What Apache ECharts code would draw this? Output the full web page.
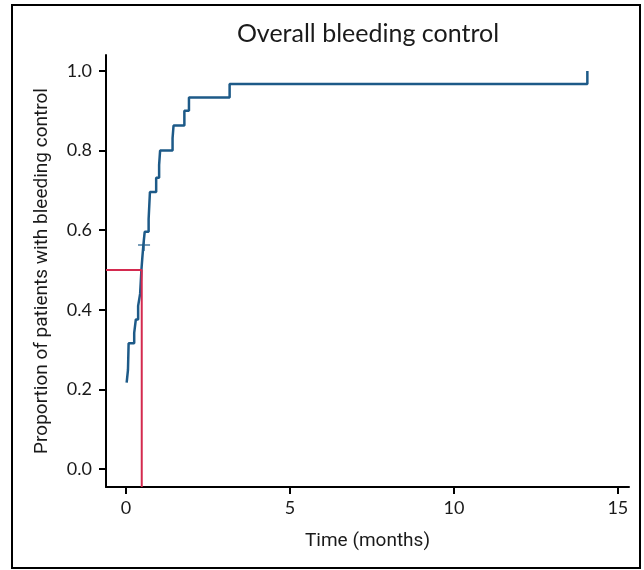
<!DOCTYPE html>
<html>
<head>
<meta charset="utf-8">
<title>Overall bleeding control</title>
<script src="https://cdn.jsdelivr.net/npm/echarts@6/dist/echarts.min.js"></script>
<style>
  html, body { margin: 0; padding: 0; background: #fff; }
  #chart { width: 644px; height: 570px; }
</style>
</head>
<body>
<div id="chart"></div>
<script>
// Kaplan-Meier step points (time in months, proportion with bleeding control)
var kmTimes = [0.02, 0.06, 0.08, 0.25, 0.30, 0.37, 0.43, 0.45, 0.47, 0.50, 0.53, 0.57,
               0.69, 0.73, 0.92, 1.01, 1.04, 1.42, 1.45, 1.78, 1.92, 3.16, 14.07];
var kmValues = [0.217, 0.249, 0.316, 0.342, 0.376, 0.41, 0.44, 0.47, 0.50, 0.533, 0.563, 0.596,
                0.628, 0.696, 0.732, 0.764, 0.80, 0.831, 0.863, 0.90, 0.933, 0.967, 1.0];

// censored observations
var censorTimes = [0.55];
var censorValues = [0.563];

// median time to bleeding control
var medianTime = 0.48;
var medianLevel = 0.5;

var xTicks = [0, 5, 10, 15];
var yTicks = [0, 0.2, 0.4, 0.6, 0.8, 1.0];

var xMin = -0.61, xMax = 15.34;
var yMin = -0.045, yMax = 1.04;

var chart = echarts.init(document.getElementById('chart'));

var kmData = [];
for (var i = 0; i < kmTimes.length; i++) {
    kmData.push([kmTimes[i], kmValues[i]]);
}

var censorData = [];
for (var j = 0; j < censorTimes.length; j++) {
    censorData.push([censorTimes[j], censorValues[j]]);
}

var medianData = [[xMin, medianLevel], [medianTime, medianLevel], [medianTime, yMin]];

var labelFont = 'Lato, "Noto Sans", sans-serif';
var nameFont = '"Liberation Sans Narrow", Roboto, sans-serif';

chart.setOption({
    animation: false,
    backgroundColor: '#ffffff',
    title: {
        text: 'Overall bleeding control',
        left: 363,
        top: 16,
        textAlign: 'center',
        textStyle: {
            fontFamily: labelFont,
            fontWeight: 'normal',
            fontSize: 25,
            color: '#1a1a1a'
        }
    },
    graphic: [{
        type: 'rect',
        shape: { x: 12, y: 5, width: 628, height: 563 },
        style: { fill: 'none', stroke: '#000', lineWidth: 2 },
        silent: true
    }],
    grid: {
        left: 106,
        right: 15,
        top: 55,
        bottom: 83,
        outerBoundsMode: 'none'
    },
    xAxis: {
        type: 'value',
        min: xMin,
        max: xMax,
        name: 'Time (months)',
        nameLocation: 'middle',
        nameGap: 45,
        nameTextStyle: {
            fontFamily: nameFont,
            fontSize: 19,
            color: '#1a1a1a'
        },
        axisLine: { show: true, onZero: false, lineStyle: { color: '#000', width: 2 } },
        axisTick: { show: true, length: 7, customValues: xTicks, lineStyle: { color: '#000', width: 2 } },
        axisLabel: {
            customValues: xTicks,
            margin: 12,
            fontFamily: labelFont,
            fontSize: 18,
            color: '#1a1a1a'
        },
        splitLine: { show: false }
    },
    yAxis: {
        type: 'value',
        min: yMin,
        max: yMax,
        name: 'Proportion of patients with bleeding control',
        nameLocation: 'middle',
        nameGap: 54,
        nameTextStyle: {
            fontFamily: nameFont,
            fontSize: 19,
            color: '#1a1a1a'
        },
        axisLine: { show: true, onZero: false, lineStyle: { color: '#000', width: 2 } },
        axisTick: { show: true, length: 7, customValues: yTicks, lineStyle: { color: '#000', width: 2 } },
        axisLabel: {
            customValues: yTicks,
            margin: 14,
            fontFamily: labelFont,
            fontSize: 18,
            color: '#1a1a1a',
            formatter: function (v) { return v.toFixed(1); }
        },
        splitLine: { show: false }
    },
    series: [{
        name: 'Overall bleeding control',
        type: 'line',
        step: 'end',
        data: kmData,
        symbol: 'none',
        lineStyle: { color: '#1d5a88', width: 2.5 },
        z: 2
    }, {
        name: 'Censored',
        type: 'scatter',
        data: censorData,
        symbol: 'path://M0,4.4H10V5.6H0Z M4.4,0H5.6V10H4.4Z',
        symbolSize: 12,
        itemStyle: { color: '#1d5a88' },
        z: 3
    }, {
        name: 'Median',
        type: 'line',
        data: medianData,
        symbol: 'none',
        lineStyle: { color: '#d42a4f', width: 2 },
        z: 4
    }]
});
</script>
</body>
</html>
